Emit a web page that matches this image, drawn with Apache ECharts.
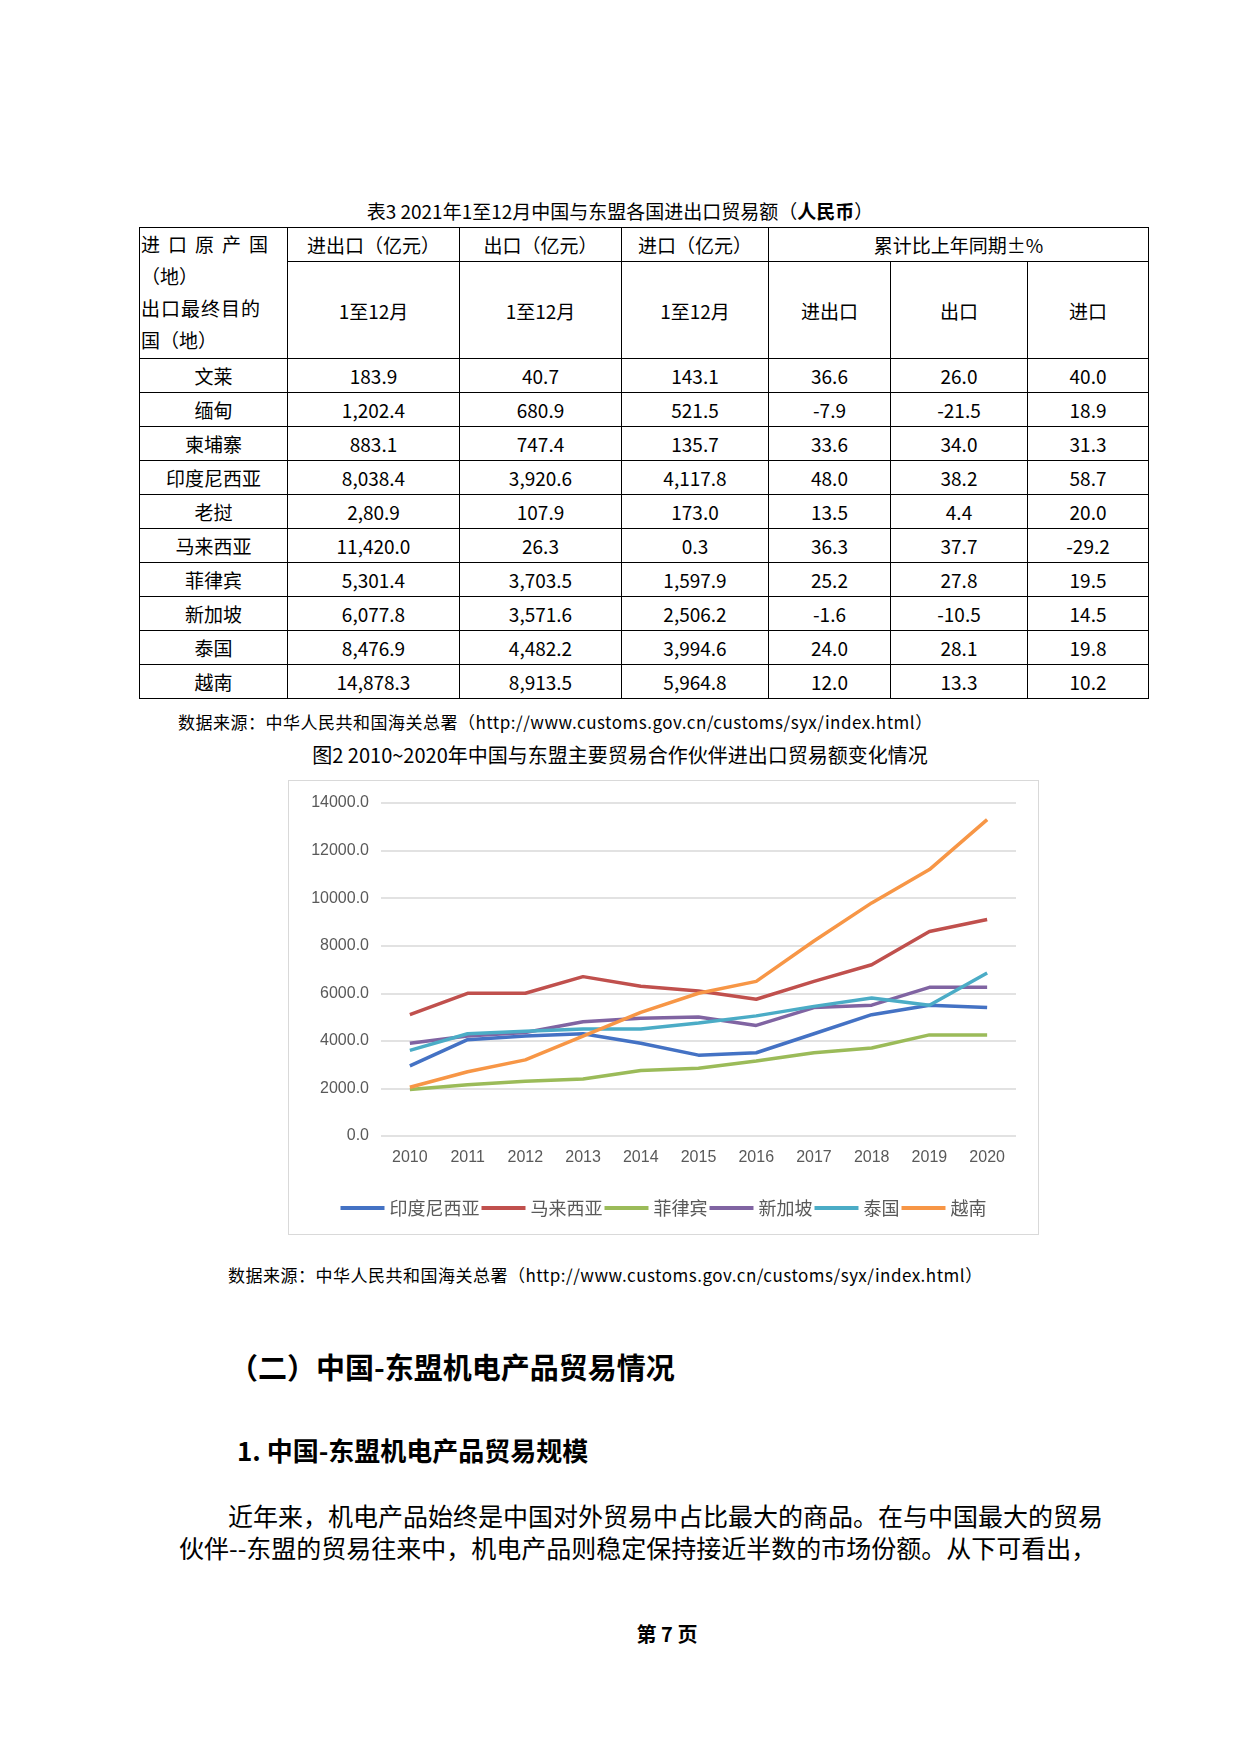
<!DOCTYPE html>
<html><head><meta charset="utf-8">
<script src="https://cdn.jsdelivr.net/npm/echarts@6/dist/echarts.min.js"></script>
<style>
body{margin:0;width:1240px;height:1754px;background:#fff;position:relative;font-family:"Noto Sans CJK SC",sans-serif;color:#000}
.abs{position:absolute;white-space:nowrap}
table{position:absolute;left:139px;top:227px;border-collapse:collapse;font-size:19px;table-layout:fixed;width:1009px}
td{border:1.5px solid #000;padding:0;text-align:center;height:33px}
</style></head><body>
<div class="abs" style="left:0;width:1240px;text-align:center;top:197px;font-size:19px">表3 2021年1至12月中国与东盟各国进出口贸易额（<b>人民币</b>）</div>
<table id="tbl"></table>
<div class="abs" style="left:178px;top:709px;font-size:17px;letter-spacing:0.5px">数据来源：中华人民共和国海关总署（http://www.customs.gov.cn/customs/syx/index.html）</div>
<div class="abs" style="left:0;width:1240px;text-align:center;top:740px;font-size:20px">图2 2010~2020年中国与东盟主要贸易合作伙伴进出口贸易额变化情况</div>
<div id="chart" style="position:absolute;left:288px;top:780px;width:751px;height:455px;border:1.5px solid #d9d9d9;box-sizing:border-box"></div>
<div class="abs" style="left:228px;top:1262px;font-size:17px;letter-spacing:0.5px">数据来源：中华人民共和国海关总署（http://www.customs.gov.cn/customs/syx/index.html）</div>
<div class="abs" style="left:229px;top:1345px;font-size:29px;font-weight:bold">（二）中国-东盟机电产品贸易情况</div>
<div class="abs" style="left:237px;top:1431px;font-size:26px;font-weight:bold">1. 中国-东盟机电产品贸易规模</div>
<div class="abs" style="left:228px;top:1497px;font-size:25px">近年来，机电产品始终是中国对外贸易中占比最大的商品。在与中国最大的贸易</div>
<div class="abs" style="left:179px;top:1529px;font-size:25px">伙伴--东盟的贸易往来中，机电产品则稳定保持接近半数的市场份额。从下可看出，</div>
<div class="abs" style="left:0;width:1334px;text-align:center;top:1619px;font-size:20px;font-weight:bold">第 7 页</div>
<script>
var countries=["文莱","缅甸","柬埔寨","印度尼西亚","老挝","马来西亚","菲律宾","新加坡","泰国","越南"];
var tTotal=["183.9","1,202.4","883.1","8,038.4","2,80.9","11,420.0","5,301.4","6,077.8","8,476.9","14,878.3"];
var tExport=["40.7","680.9","747.4","3,920.6","107.9","26.3","3,703.5","3,571.6","4,482.2","8,913.5"];
var tImport=["143.1","521.5","135.7","4,117.8","173.0","0.3","1,597.9","2,506.2","3,994.6","5,964.8"];
var gTotal=["36.6","-7.9","33.6","48.0","13.5","36.3","25.2","-1.6","24.0","12.0"];
var gExport=["26.0","-21.5","34.0","38.2","4.4","37.7","27.8","-10.5","28.1","13.3"];
var gImport=["40.0","18.9","31.3","58.7","20.0","-29.2","19.5","14.5","19.8","10.2"];

var years=["2010","2011","2012","2013","2014","2015","2016","2017","2018","2019","2020"];
var seriesNames=["印度尼西亚","马来西亚","菲律宾","新加坡","泰国","越南"];
var indonesia=[2950,4050,4200,4300,3900,3400,3500,4300,5100,5500,5400];
var malaysia=[5100,6000,6000,6700,6300,6100,5750,6500,7200,8600,9100];
var philippines=[1950,2150,2300,2400,2750,2850,3150,3500,3700,4250,4250];
var singapore=[3900,4200,4350,4800,4950,5000,4650,5400,5500,6250,6250];
var thailand=[3600,4300,4400,4500,4500,4750,5050,5450,5800,5500,6850];
var vietnam=[2050,2700,3200,4200,5200,6000,6500,8200,9800,11200,13300];
var colors=["#4472c4","#c0504d","#9bbb59","#8064a2","#4bacc6","#f79646"];

var h='<colgroup><col style="width:148px"><col style="width:172px"><col style="width:162px"><col style="width:147px"><col style="width:122px"><col style="width:137px"><col style="width:121px"></colgroup>'+
 '<tr><td rowspan="2" style="text-align:left;line-height:32px;padding:0 1px;vertical-align:top;font-size:19px"><span style="letter-spacing:8px">进口原产国</span><br>（地）<br><span style="letter-spacing:1px">出口最终目的</span><br>国（地）</td>'+
 '<td>进出口（亿元）</td><td>出口（亿元）</td><td>进口（亿元）</td><td colspan="3">累计比上年同期±%</td></tr>'+
 '<tr><td style="height:96px">1至12月</td><td>1至12月</td><td>1至12月</td><td>进出口</td><td>出口</td><td>进口</td></tr>';
for(var i=0;i<countries.length;i++){
 h+='<tr><td>'+countries[i]+'</td><td>'+tTotal[i]+'</td><td>'+tExport[i]+'</td><td>'+tImport[i]+'</td><td>'+gTotal[i]+'</td><td>'+gExport[i]+'</td><td>'+gImport[i]+'</td></tr>';
}
document.getElementById('tbl').innerHTML=h;

var data=[indonesia,malaysia,philippines,singapore,thailand,vietnam];
var chart=echarts.init(document.getElementById('chart'));
chart.setOption({
 animation:false,
 color:colors,
 grid:{left:92,right:22,top:22,bottom:98,containLabel:false},
 legend:{bottom:12,itemWidth:44,itemHeight:4,itemGap:2,icon:'rect',textStyle:{fontSize:18,color:'#595959',fontFamily:'Noto Sans CJK SC'},data:seriesNames},
 xAxis:{type:'category',data:years,boundaryGap:true,axisLine:{show:false},axisTick:{show:false},axisLabel:{fontSize:16,color:'#595959',margin:14}},
 yAxis:{type:'value',min:0,max:14000,interval:2000,axisLabel:{fontSize:16,color:'#595959',margin:12,formatter:function(v){return v.toFixed(1);}},splitLine:{lineStyle:{color:'#d9d9d9',width:1.5}}},
 series:seriesNames.map(function(n,i){return {name:n,type:'line',data:data[i],symbol:'none',lineStyle:{width:3.5}};})
});
</script>
</body></html>
